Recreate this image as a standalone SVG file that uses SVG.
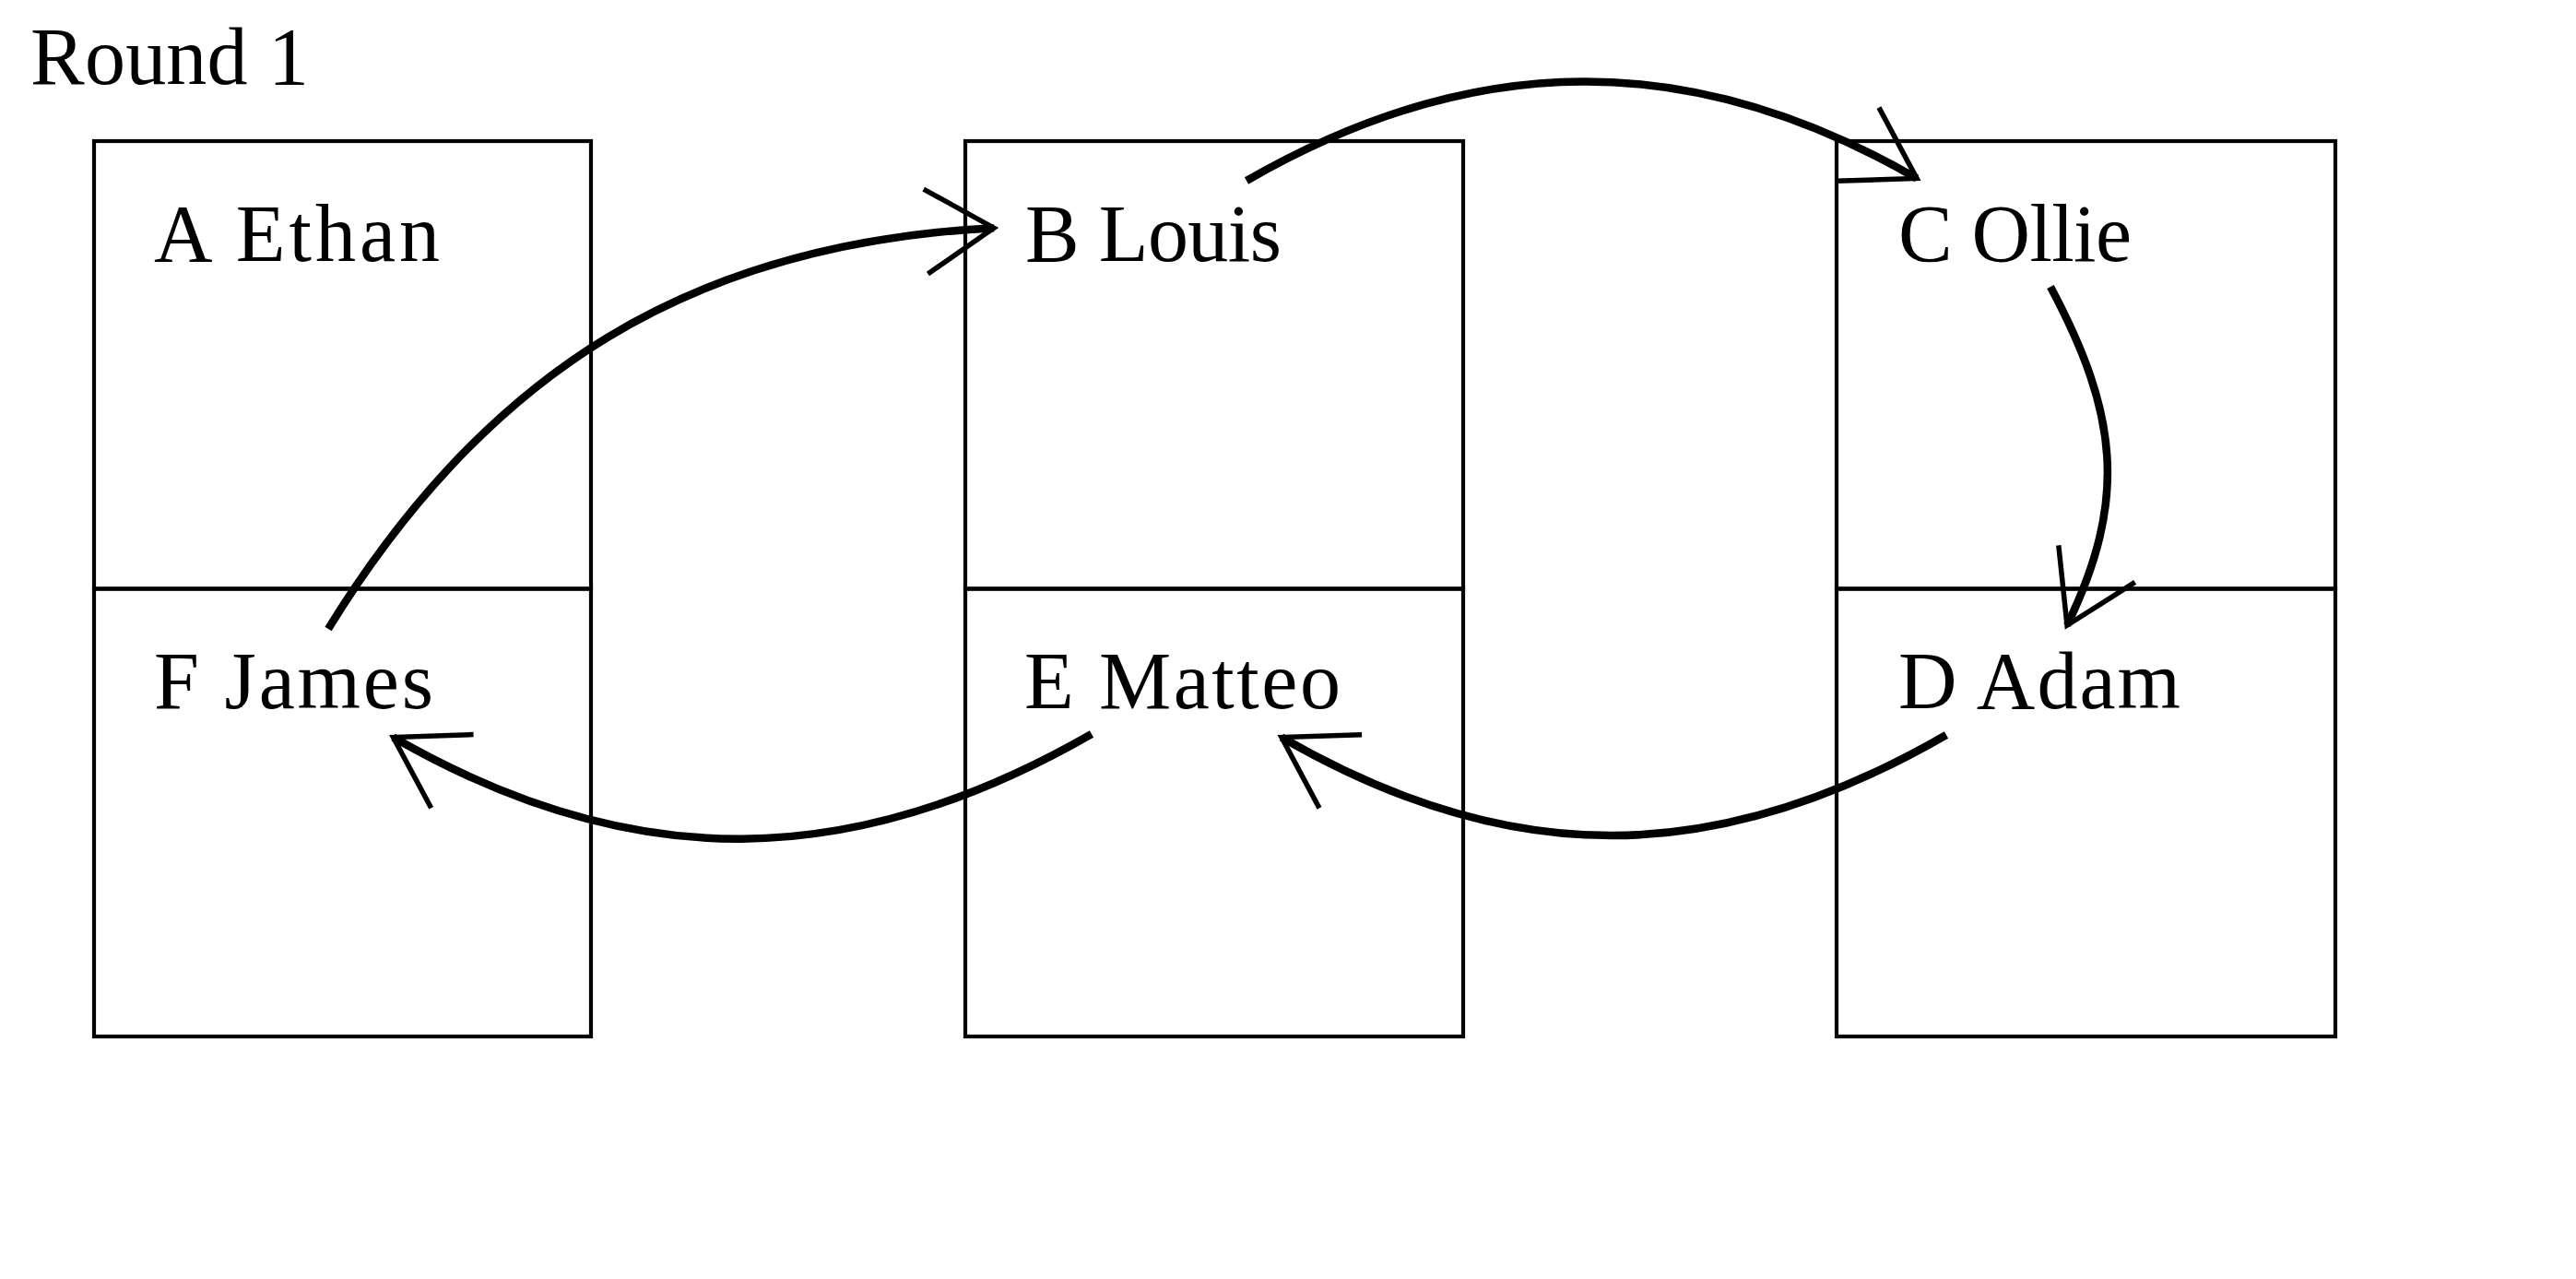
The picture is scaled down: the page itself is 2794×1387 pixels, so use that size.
<svg xmlns="http://www.w3.org/2000/svg" width="2794" height="1387" viewBox="0 0 2794 1387">
<style>
.box{fill:none;stroke:#000;stroke-width:4.2}
.lbl{font-family:"Liberation Serif","Times New Roman",serif;font-size:88px;fill:#000}
.arc{fill:none;stroke:#000;stroke-width:8.5;marker-end:url(#tip)}
</style>
<defs>
<marker id="tip" markerUnits="userSpaceOnUse" viewBox="-80 -50 84 100" refX="0" refY="0" markerWidth="84" markerHeight="100" orient="auto" overflow="visible">
<path d="M -74 -46 L 0 0 L -74 46" fill="none" stroke="#000" stroke-width="5.5" stroke-linejoin="miter" stroke-miterlimit="10"/>
</marker>
</defs>
<rect width="2794" height="1387" fill="#fff"/>
<text class="lbl" x="33" y="91" textLength="302" lengthAdjust="spacing">Round 1</text>
<g id="A"><rect class="box" x="102" y="153" width="539" height="485.5"/><text class="lbl" x="167" y="283" textLength="310" lengthAdjust="spacing">A Ethan</text></g>
<g id="F"><rect class="box" x="102" y="638.5" width="539" height="485.5"/><text class="lbl" x="167" y="768" textLength="303" lengthAdjust="spacing">F James</text></g>
<g id="B"><rect class="box" x="1047" y="153" width="540" height="485.5"/><text class="lbl" x="1112" y="283" textLength="278" lengthAdjust="spacing">B Louis</text></g>
<g id="E"><rect class="box" x="1047" y="638.5" width="540" height="485.5"/><text class="lbl" x="1111" y="768" textLength="343" lengthAdjust="spacing">E Matteo</text></g>
<g id="C"><rect class="box" x="1992" y="153" width="541" height="485.5"/><text class="lbl" x="2059" y="283" textLength="253" lengthAdjust="spacing">C Ollie</text></g>
<g id="D"><rect class="box" x="1992" y="638.5" width="541" height="485.5"/><text class="lbl" x="2059" y="768" textLength="306" lengthAdjust="spacing">D Adam</text></g>
<g id="connectors">
<path class="arc" d="M 356 682 C 529 401 751.5 264 1078 247.2"/>
<path class="arc" d="M 1352 196 C 1599 53.5 1835 52.5 2079 193.5"/>
<path class="arc" d="M 2224 311 C 2297 448 2308.5 540.5 2242 678"/>
<path class="arc" d="M 2111 797 C 1861 941.5 1637 942.5 1390 799.5"/>
<path class="arc" d="M 1184 796 C 923 946 684.5 948 426.5 799.5"/>
</g>
</svg>
